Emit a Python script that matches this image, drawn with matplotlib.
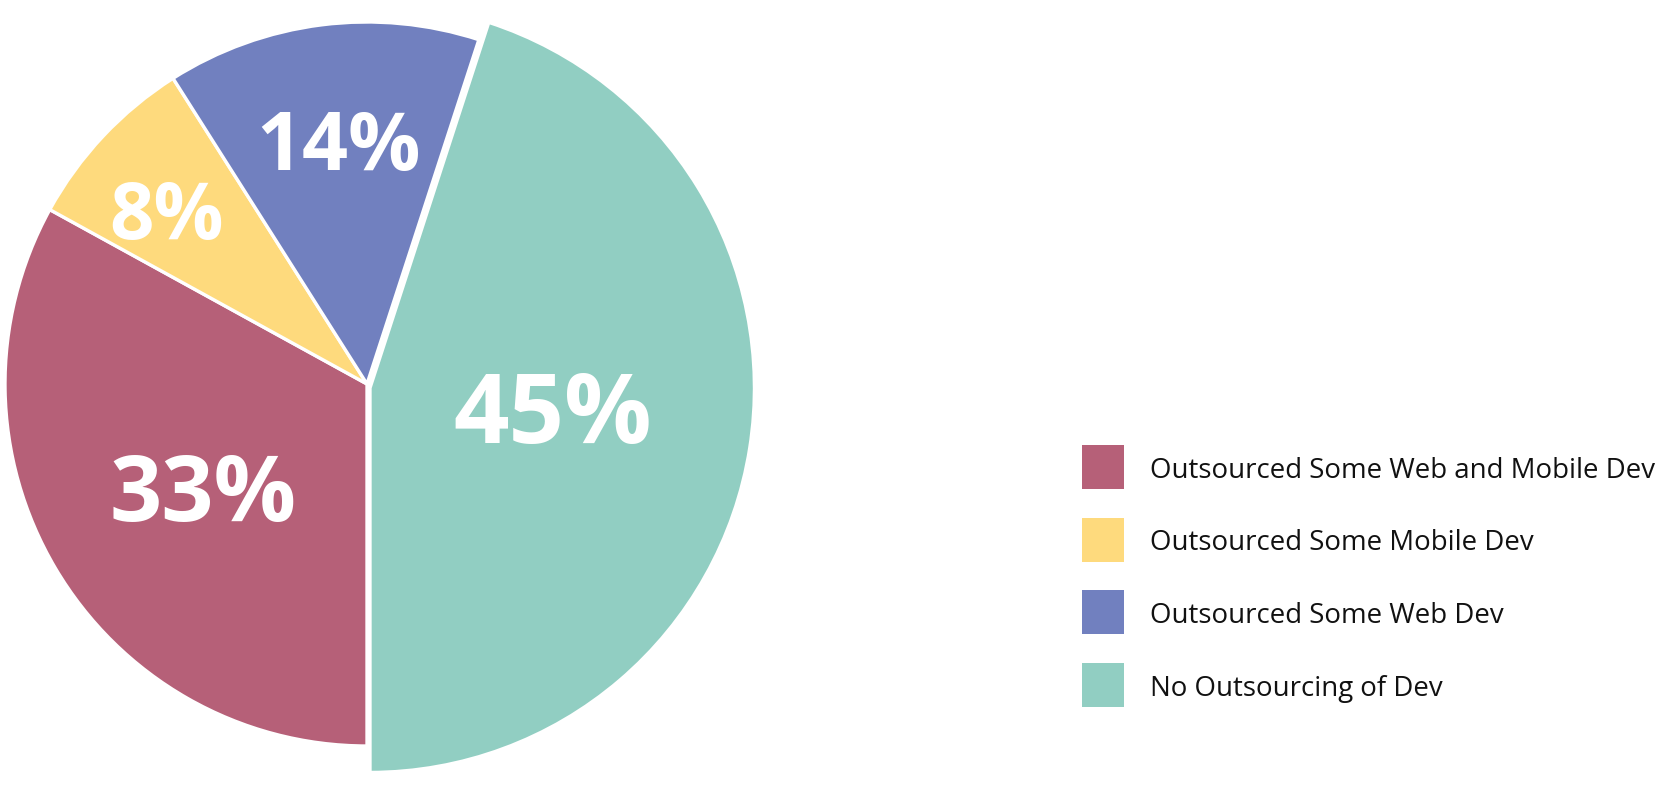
import numpy as np
import matplotlib
matplotlib.use("Agg")
import matplotlib.pyplot as plt
from matplotlib.patches import Rectangle

# ── Data ──────────────────────────────────────────────────────────────────
categories = [
    "No Outsourcing of Dev",
    "Outsourced Some Web and Mobile Dev",
    "Outsourced Some Mobile Dev",
    "Outsourced Some Web Dev",
]
shares = [45, 33, 8, 14]
colors = ["#91CEC2", "#B66078", "#FEDA7D", "#7180BF"]
legend_order = [1, 2, 3, 0]

# label distance (fraction of radius), pixel nudge and size per slice
label_dist = [0.52, 0.54, 0.73, 0.68]
label_nudge = [(0, 7), (4, -2), (-8, -6), (2, 0)]
label_size = [70, 66, 56, 58]

W, H = 1663, 808
fig = plt.figure(figsize=(W / 100, H / 100), dpi=100)
ax = fig.add_axes([0, 0, 1, 1])

cx, cy, R = 367, 424, 362
wedges, _ = ax.pie(
    shares, colors=colors, startangle=72, counterclock=False,
    center=(cx, cy), radius=R, frame=True,
    wedgeprops={"edgecolor": "white", "linewidth": 2.4},
)
ax.set_xlim(0, W)
ax.set_ylim(0, H)
ax.axis("off")

# the "no outsourcing" slice sticks out a bit further
wedges[0].set_radius(R * 1.062)
wedges[0].set_center((cx + 3, cy - 4))

for w, pct, d, (nx, ny), fs in zip(wedges, shares, label_dist, label_nudge, label_size):
    ang = np.deg2rad((w.theta1 + w.theta2) / 2)
    r = R * d
    ax.text(cx + r * np.cos(ang) + nx, cy + r * np.sin(ang) + ny, f"{pct}%",
            color="white", fontsize=fs, fontweight="bold",
            family="Open Sans", ha="center", va="center_baseline")

# ── Legend ────────────────────────────────────────────────────────────────
y0, step = H - 467, 72.7
texts = []
for i, idx in enumerate(legend_order):
    y = y0 - i * step
    ax.add_patch(Rectangle((1082, y - 22), 42, 44, facecolor=colors[idx],
                           edgecolor="none"))
    texts.append(ax.text(1150, y, categories[idx], fontsize=21, family="Open Sans",
                         color="#111111", ha="left", va="center_baseline"))

# shrink legend text so the longest entry fits the same width as the original
renderer = fig.canvas.get_renderer()
widest = max(t.get_window_extent(renderer).width for t in texts)
scale = min(1.0, 505 / widest)
for t in texts:
    t.set_fontsize(21 * scale)

fig.savefig("out.png", dpi=100, facecolor="white")
